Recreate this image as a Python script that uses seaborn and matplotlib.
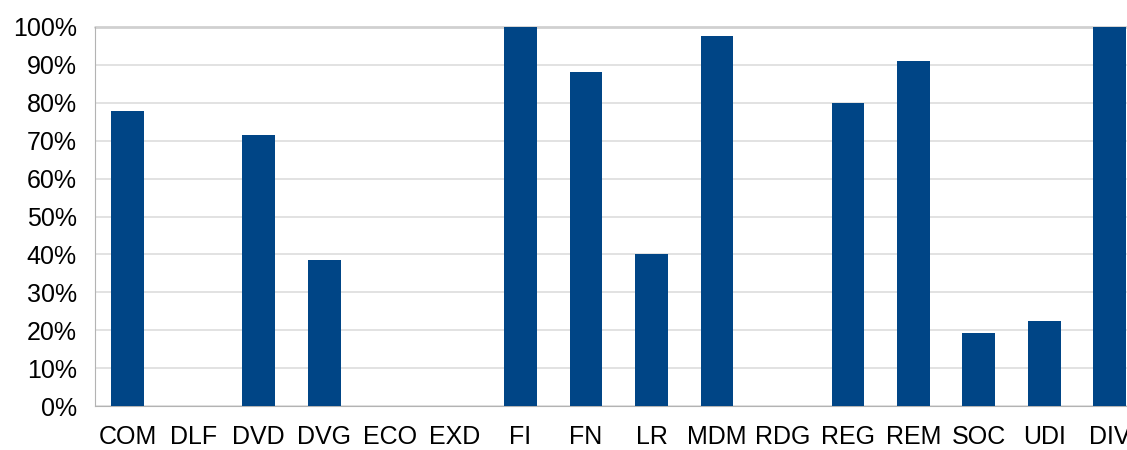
import matplotlib
matplotlib.use("Agg")
import matplotlib.pyplot as plt
import matplotlib.ticker as mtick
import seaborn as sns
import pandas as pd

# Data
categories = ["COM", "DLF", "DVD", "DVG", "ECO", "EXD", "FI", "FN", "LR",
              "MDM", "RDG", "REG", "REM", "SOC", "UDI", "DIV"]
shares = [77.8, 0, 71.5, 38.5, 0, 0, 100, 88.1, 40.0,
          97.6, 0, 80.0, 91.0, 19.2, 22.4, 100]

df = pd.DataFrame({"Category": categories, "Share": shares})

sns.set_style("white")
plt.rcParams["font.family"] = ["Liberation Sans", "DejaVu Sans"]

fig = plt.figure(figsize=(11.27, 4.5), dpi=100)
# axes extends to the right edge so the last bar is clipped like the original
ax = fig.add_axes([95 / 1127, 44 / 450, 1 - 95 / 1127, 379 / 450])

sns.barplot(data=df, x="Category", y="Share", color="#004586", width=0.5,
            saturation=1, linewidth=0, ax=ax, zorder=3)

step = 65.47
ax.set_xlim(-0.5, -0.5 + (1127 - 95) / step)
ax.set_ylim(0, 100)
ax.yaxis.set_major_locator(mtick.MultipleLocator(10))
ax.yaxis.set_major_formatter(mtick.FuncFormatter(lambda v, p: f"{v:.0f}%"))

ax.grid(axis="y", color="#dddddd", linewidth=1.2, zorder=0)
for s in ["top", "right"]:
    ax.spines[s].set_visible(False)
ax.spines["left"].set_color("#b3b3b3")
ax.spines["bottom"].set_color("#b3b3b3")
ax.axhline(100, color="#d0d0d0", linewidth=2, zorder=1, clip_on=False)

# x ticks sit between categories; labels centred under bars
ax.set_xticks([i - 0.5 for i in range(len(categories))])
ax.set_xticklabels([])
ax.set_xticks(range(len(categories)), minor=True)
ax.set_xticklabels(categories, minor=True)
ax.tick_params(axis="x", which="major", length=10, color="#b3b3b3", width=1.2)
ax.tick_params(axis="x", which="minor", length=0, labelsize=18, pad=14,
               labelcolor="black")
ax.tick_params(axis="y", length=11, color="#b3b3b3", width=1.2, labelsize=18,
               pad=2, labelcolor="black")

ax.set_xlabel("")
ax.set_ylabel("")

fig.savefig("out.png", dpi=100)
